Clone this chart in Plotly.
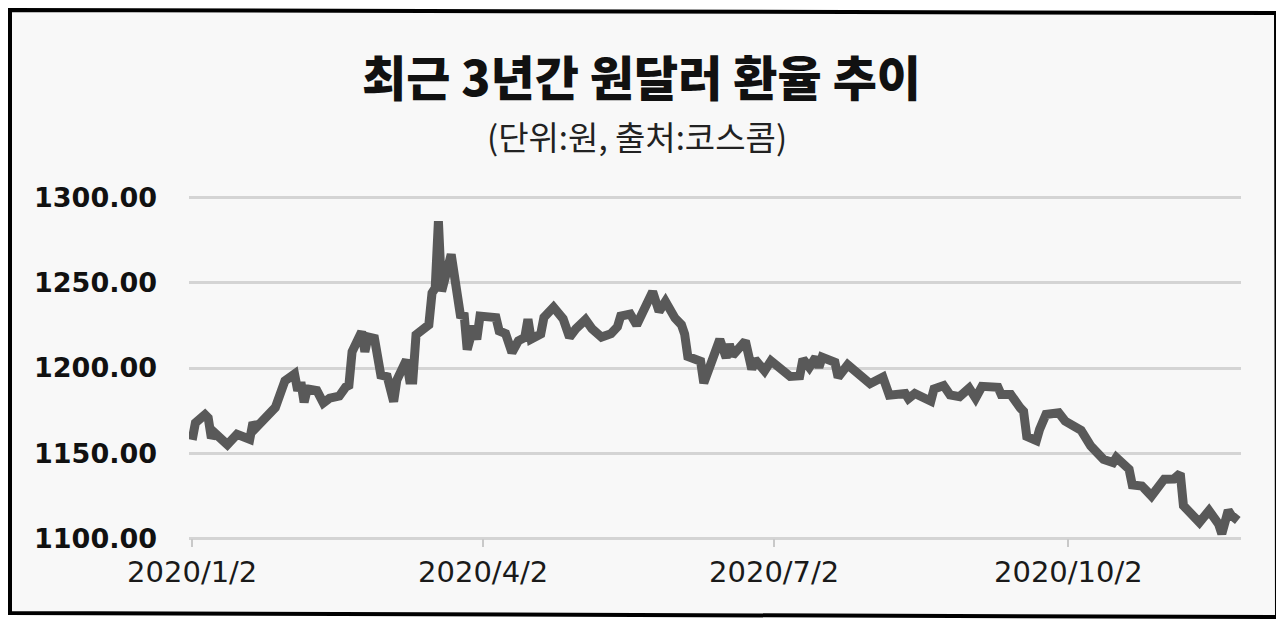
import plotly.graph_objects as go

# canvas / plot-area geometry (pixels, in page coordinates of the reference)
W, H = 1284, 624
PAGE_OFF = 8                      # browser body margin in front of the figure
PLOT_L, PLOT_T = 189, 191         # page position of the plot area's top-left
PLOT_W, PLOT_H = 1052, 354

M_L, M_T = PLOT_L - PAGE_OFF, PLOT_T - PAGE_OFF
M_R, M_B = W - M_L - PLOT_W, H - M_T - PLOT_H

# ── data ──────────────────────────────────────────────────────────────────────
DATES = [
    "2020-01-02", "2020-01-03", "2020-01-06", "2020-01-07", "2020-01-08", "2020-01-09",
    "2020-01-13", "2020-01-16", "2020-01-20", "2020-01-21", "2020-01-22", "2020-01-28",
    "2020-01-31", "2020-02-03", "2020-02-04", "2020-02-05", "2020-02-06", "2020-02-07",
    "2020-02-10", "2020-02-12", "2020-02-14", "2020-02-17", "2020-02-19", "2020-02-20",
    "2020-02-21", "2020-02-24", "2020-02-25", "2020-02-26", "2020-02-28", "2020-03-01",
    "2020-03-03", "2020-03-05", "2020-03-06", "2020-03-09", "2020-03-10", "2020-03-11",
    "2020-03-12", "2020-03-16", "2020-03-17", "2020-03-18", "2020-03-19", "2020-03-20",
    "2020-03-23", "2020-03-26", "2020-03-27", "2020-03-28", "2020-03-30", "2020-03-31",
    "2020-04-01", "2020-04-06", "2020-04-07", "2020-04-09", "2020-04-11", "2020-04-13",
    "2020-04-15", "2020-04-16", "2020-04-17", "2020-04-20", "2020-04-21", "2020-04-24",
    "2020-04-27", "2020-04-29", "2020-05-01", "2020-05-04", "2020-05-06", "2020-05-09",
    "2020-05-12", "2020-05-14", "2020-05-15", "2020-05-18", "2020-05-20", "2020-05-23",
    "2020-05-25", "2020-05-27", "2020-05-29", "2020-06-01", "2020-06-03", "2020-06-04",
    "2020-06-05", "2020-06-09", "2020-06-10", "2020-06-15", "2020-06-17", "2020-06-18",
    "2020-06-19", "2020-06-23", "2020-06-25", "2020-06-26", "2020-06-29", "2020-07-01",
    "2020-07-04", "2020-07-07", "2020-07-10", "2020-07-11", "2020-07-13", "2020-07-15",
    "2020-07-16", "2020-07-17", "2020-07-21", "2020-07-22", "2020-07-25", "2020-07-29",
    "2020-08-01", "2020-08-05", "2020-08-07", "2020-08-12", "2020-08-13", "2020-08-15",
    "2020-08-20", "2020-08-21", "2020-08-24", "2020-08-26", "2020-08-29", "2020-09-01",
    "2020-09-03", "2020-09-05", "2020-09-10", "2020-09-11", "2020-09-14", "2020-09-17",
    "2020-09-18", "2020-09-19", "2020-09-22", "2020-09-23", "2020-09-25", "2020-09-29",
    "2020-10-01", "2020-10-06", "2020-10-09", "2020-10-13", "2020-10-16", "2020-10-17",
    "2020-10-21", "2020-10-22", "2020-10-25", "2020-10-28", "2020-11-01", "2020-11-04",
    "2020-11-06", "2020-11-07", "2020-11-10", "2020-11-12", "2020-11-15", "2020-11-18",
    "2020-11-19", "2020-11-21", "2020-11-22", "2020-11-24",
]
RATES = [
    1157.8, 1167.7, 1172.6, 1170.7, 1158.9, 1161.9,
    1155.0, 1161.0, 1158.1, 1167.9, 1165.0, 1176.8,
    1192.5, 1196.5, 1186.7, 1191.6, 1179.9, 1187.7,
    1186.7, 1179.5, 1182.3, 1183.5, 1188.8, 1189.8,
    1209.5, 1221.3, 1209.5, 1218.3, 1217.4, 1195.8,
    1194.9, 1180.2, 1192.9, 1204.7, 1193.0, 1193.0,
    1219.5, 1225.4, 1244.1, 1247.0, 1286.3, 1245.1,
    1266.7, 1229.5, 1232.4, 1210.8, 1224.6, 1216.8,
    1230.5, 1229.6, 1221.8, 1220.2, 1209.1, 1216.0,
    1217.9, 1228.7, 1217.0, 1220.0, 1229.8, 1235.7,
    1228.9, 1218.1, 1223.0, 1228.4, 1223.1, 1218.2,
    1220.2, 1224.2, 1230.5, 1231.7, 1225.3, 1236.1,
    1244.9, 1233.2, 1239.1, 1229.3, 1225.4, 1220.0,
    1206.8, 1203.9, 1191.2, 1216.8, 1206.0, 1213.9,
    1207.4, 1215.9, 1199.2, 1205.1, 1198.3, 1204.2,
    1199.3, 1195.0, 1195.4, 1205.3, 1200.4, 1206.3,
    1200.4, 1206.3, 1203.4, 1194.6, 1201.9, 1194.7,
    1190.8, 1194.7, 1184.0, 1185.0, 1182.0, 1185.0,
    1180.5, 1187.7, 1189.7, 1184.2, 1183.2, 1188.2,
    1182.3, 1189.2, 1188.7, 1184.4, 1184.4, 1176.5,
    1174.6, 1159.8, 1157.3, 1163.8, 1172.7, 1173.7,
    1168.8, 1163.4, 1154.2, 1146.3, 1144.4, 1147.4,
    1140.5, 1131.3, 1130.7, 1124.8, 1134.7, 1134.8,
    1138.1, 1119.1, 1114.2, 1109.3, 1116.2, 1108.3,
    1102.5, 1116.3, 1113.4, 1110.4,
]

Y_TICKS = [1100, 1150, 1200, 1250, 1300]
X_TICKS = ["2020-01-02", "2020-04-02", "2020-07-02", "2020-10-02"]
X_LABELS = ["2020/1/2", "2020/4/2", "2020/7/2", "2020/10/2"]

TITLE = "최근 3년간 원달러 환율 추이"
SUBTITLE = "(단위:원, 출처:코스콤)"

Y_MIN, Y_MAX = 1096, 1304
X_RANGE = ["2020-01-01", "2020-11-25"]


def page_to_paper(px, py):
    """page pixel -> paper coords of the plot area"""
    fx, fy = px - PAGE_OFF, py - PAGE_OFF
    return (fx - M_L) / PLOT_W, (H - M_B - fy) / PLOT_H


# scanned frame, slightly skewed (left/top edges kept inside the figure)
frame_page = [(10, 10), (1276, 13), (1277, 617), (10, 613)]
pts = [page_to_paper(x, y) for x, y in frame_page]
frame_path = "M " + " L ".join(f"{x:.5f},{y:.5f}" for x, y in pts) + " Z"

fig = go.Figure(go.Scatter(
    x=DATES, y=RATES,
    mode="lines",
    line=dict(color="#595959", width=9),
    hoverinfo="x+y",
))

tx, ty = page_to_paper(641, 75)
sx, sy = page_to_paper(637, 136)

fig.update_layout(
    width=W, height=H,
    margin=dict(l=M_L, r=M_R, t=M_T, b=M_B),
    paper_bgcolor="#ffffff",
    plot_bgcolor="rgba(0,0,0,0)",
    showlegend=False,
    annotations=[
        dict(text=TITLE, xref="paper", yref="paper", x=tx, y=ty,
             xanchor="center", yanchor="middle", showarrow=False,
             font=dict(family="Noto Sans CJK KR", size=48, color="#111111", weight=900)),
        dict(text=SUBTITLE, xref="paper", yref="paper", x=sx, y=sy,
             xanchor="center", yanchor="middle", showarrow=False,
             font=dict(family="Noto Sans CJK KR", size=33, color="#222222")),
    ],
    shapes=[dict(
        type="path", path=frame_path, xref="paper", yref="paper",
        line=dict(color="#000000", width=4), fillcolor="#f8f8f8", layer="below",
    )],
    xaxis=dict(
        type="date", range=X_RANGE,
        tickvals=X_TICKS, ticktext=X_LABELS,
        ticks="outside", ticklen=8, tickwidth=2, tickcolor="#c9c9c9",
        showgrid=False, showline=False, zeroline=False,
        anchor="free", position=(1100 - Y_MIN) / (Y_MAX - Y_MIN),
        tickfont=dict(family="DejaVu Sans", size=29, color="#1a1a1a"),
        ticklabelstandoff=0,
    ),
    yaxis=dict(
        range=[Y_MIN, Y_MAX],
        tickvals=Y_TICKS, tickformat=".2f",
        showgrid=True, gridcolor="#d4d4d4", gridwidth=2.5,
        zeroline=False, showline=False, ticks="",
        tickfont=dict(family="DejaVu Sans", size=27, color="#111111", weight="bold"),
        ticklabelstandoff=31,
    ),
)

fig.write_html("out.html")
